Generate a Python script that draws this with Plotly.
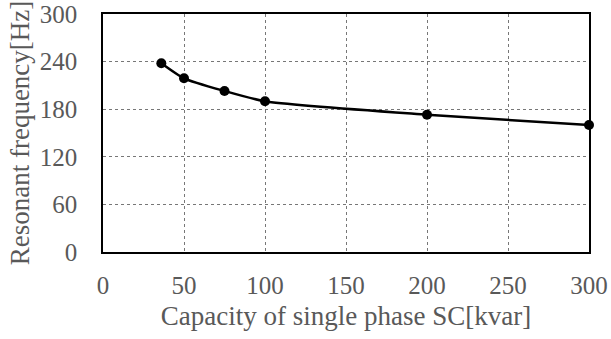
import plotly.graph_objects as go

capacity = [36, 50, 75, 100, 200, 300]
frequency = [238, 219, 203, 190, 173, 160]
x_ticks = [0, 50, 100, 150, 200, 250, 300]
y_ticks = [0, 60, 120, 180, 240, 300]

fig = go.Figure()
fig.add_trace(go.Scatter(
    x=capacity, y=frequency, mode="lines+markers",
    line=dict(color="black", width=2.5, shape="spline", smoothing=0.6),
    marker=dict(color="black", size=10),
    showlegend=False, cliponaxis=False,
))

font_family = "Liberation Serif, Times New Roman, serif"
fig.update_layout(
    width=611, height=339,
    margin=dict(l=103, r=22, t=14, b=87),
    paper_bgcolor="white", plot_bgcolor="white",
    font=dict(family=font_family, size=25, color="#595959"),
)
fig.update_xaxes(
    range=[0, 300], tickvals=x_ticks, ticks="", automargin=False,
    showgrid=True, gridcolor="#777777", griddash="dot", gridwidth=1,
    showline=True, linecolor="black", linewidth=1.5, mirror=True,
    zeroline=False, ticklabelstandoff=10,
    tickfont=dict(size=25, color="#595959"),
    title=dict(text="Capacity of single phase SC[kvar]", font=dict(size=27, color="#595959"), standoff=8),
)
fig.update_yaxes(
    range=[0, 300], tickvals=y_ticks, ticks="", automargin=False,
    showgrid=True, gridcolor="#777777", griddash="dot", gridwidth=1,
    showline=True, linecolor="black", linewidth=1.5, mirror=True,
    zeroline=False, ticklabelstandoff=19,
    tickfont=dict(size=25, color="#595959"),
    title=dict(text="Resonant frequency[Hz]", font=dict(size=27, color="#595959"), standoff=2),
)
fig.write_html("out.html")
